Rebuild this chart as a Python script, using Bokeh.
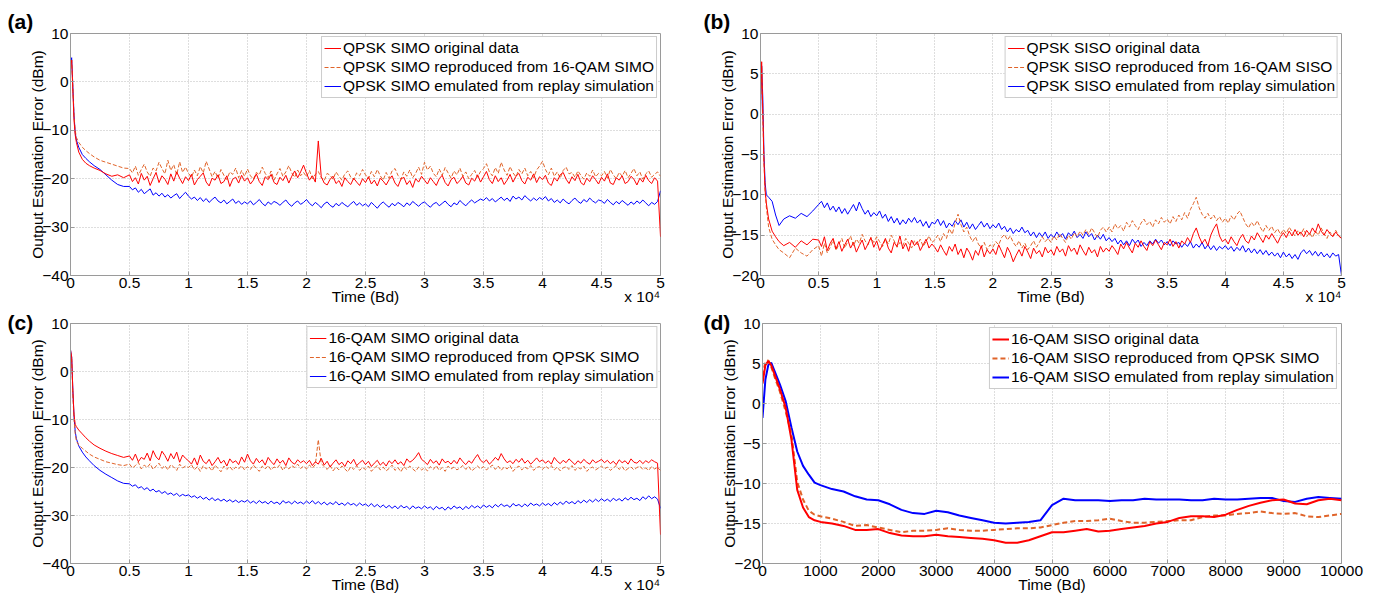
from bokeh.plotting import figure
from bokeh.layouts import column, row
from bokeh.models import Range1d, FixedTicker, Legend, LegendItem, Title, LinearAxis
from bokeh.embed import file_html
from bokeh.resources import INLINE

# ---------------- data ----------------
# time samples (Bd) for panels (a)-(c)
T_A = [0, 100, 200, 300, 400, 500, 700, 1000, 1300, 1600, 2000, 2500, 3000, 3500, 4000, 4500,
       5000, 5250, 5500, 5750, 6000, 6250, 6500, 6750, 7000, 7250, 7500, 7750, 8000, 8250, 8500, 8750, 9000, 9250, 9500, 9750,
       10000, 10250, 10500, 10750, 11000, 11250, 11500, 11750, 12000, 12250, 12500, 12750, 13000, 13250, 13500, 13750, 14000, 14250, 14500, 14750,
       15000, 15250, 15500, 15750, 16000, 16250, 16500, 16750, 17000, 17250, 17500, 17750, 18000, 18250, 18500, 18750, 19000, 19250, 19500, 19750,
       20000, 20250, 20500, 20750, 21000, 21250, 21500, 21750, 22000, 22250, 22500, 22750, 23000, 23250, 23500, 23750, 24000, 24250, 24500, 24750,
       25000, 25250, 25500, 25750, 26000, 26250, 26500, 26750, 27000, 27250, 27500, 27750, 28000, 28250, 28500, 28750, 29000, 29250, 29500, 29750,
       30000, 30250, 30500, 30750, 31000, 31250, 31500, 31750, 32000, 32250, 32500, 32750, 33000, 33250, 33500, 33750, 34000, 34250, 34500, 34750,
       35000, 35250, 35500, 35750, 36000, 36250, 36500, 36750, 37000, 37250, 37500, 37750, 38000, 38250, 38500, 38750, 39000, 39250, 39500, 39750,
       40000, 40250, 40500, 40750, 41000, 41250, 41500, 41750, 42000, 42250, 42500, 42750, 43000, 43250, 43500, 43750, 44000, 44250, 44500, 44750,
       45000, 45250, 45500, 45750, 46000, 46250, 46500, 46750, 47000, 47250, 47500, 47750, 48000, 48250, 48500, 48750, 49000, 49250, 49500, 49750,
       50000]

# (a) QPSK SIMO
A_ORIG = [3.5, 4.5, -2, -8, -11, -12.5, -14.5, -16, -16.8, -17.3, -17.8, -18.3, -19, -19.5, -19.2, -19.8,
          -19.2, -20.6, -19.8, -21.1, -18.9, -20.3, -19.5, -21.4, -20.0, -18.7, -20.8, -19.4, -20.1, -21.2, -19.0, -20.5, -18.6, -19.9, -21.0, -19.6,
          -20.4, -19.1, -21.3, -20.2, -19.5, -18.8, -20.7, -21.5, -19.9, -20.3, -19.2, -21.0, -20.6, -19.4, -21.6, -20.1, -19.7, -20.9, -19.3, -20.5,
          -19.8, -21.1, -20.3, -19.0, -20.6, -21.4, -19.6, -20.2, -19.1, -20.8, -21.2, -19.7, -20.4, -19.3, -20.9, -19.5, -18.4, -19.8, -18.6, -17.2,
          -18.9, -20.3, -19.4, -20.7, -12.2, -19.6, -20.9, -21.3, -20.1, -19.5, -21.0, -20.4, -21.6, -19.8, -20.6, -21.2, -19.9, -20.7, -21.4, -20.0,
          -20.8, -19.6, -21.1, -20.3, -21.5, -19.9, -20.5, -21.3, -20.2, -19.4, -20.9, -21.6, -20.1, -19.7, -21.2, -20.4, -21.8, -20.0, -20.7, -19.5,
          -20.3, -21.1, -19.8, -20.6, -21.4, -20.0, -19.3, -20.8, -21.5, -20.2, -19.7, -21.0, -20.4, -19.5, -20.9, -21.3, -19.9, -20.5, -19.2, -20.7,
          -19.6, -18.5, -20.2, -21.0, -19.4, -20.6, -19.8, -21.2, -20.3, -19.1, -20.7, -19.5, -18.9, -20.4, -21.1, -19.7, -20.3, -19.0, -20.8, -19.6,
          -20.2, -19.3, -20.9, -21.4, -19.8, -20.5, -19.2, -18.7, -20.1, -21.0, -19.6, -20.4, -19.1, -20.8, -21.3, -19.9, -20.6, -19.4, -20.2, -21.1,
          -19.7, -20.5, -19.0, -20.9, -21.2, -19.8, -20.3, -19.4, -21.0, -20.6, -19.5, -20.1, -21.3, -19.9, -20.7, -19.3, -20.4, -21.0, -19.8, -20.5,
          -32]
A_REPR = [3, 4.5, -1, -7, -10, -11.5, -12.5, -13.5, -14.2, -14.8, -15.5, -16.2, -16.6, -17.0, -17.4, -17.8,
          -17.9, -18.8, -17.4, -19.3, -18.1, -17.0, -18.6, -19.5, -17.8, -18.4, -16.6, -17.9, -19.0, -16.2, -18.3, -17.1, -19.2, -16.5, -18.7, -17.6,
          -18.9, -19.7, -18.2, -19.4, -17.5, -18.8, -16.4, -18.0, -19.6, -18.5, -19.9, -18.1, -19.3, -20.2, -18.6, -19.1, -17.8, -19.8, -18.3, -19.5,
          -18.0, -19.4, -20.1, -18.7, -19.2, -17.6, -18.9, -19.8, -18.4, -20.3, -19.0, -17.9, -19.5, -18.6, -17.3, -18.8, -19.7, -18.2, -19.4, -18.7,
          -19.6, -18.3, -20.0, -19.1, -18.5, -19.8, -20.4, -18.9, -19.3, -20.1, -18.6, -19.5, -20.3, -19.0, -18.4, -19.7, -20.2, -18.8, -19.4, -18.1,
          -19.2, -20.0, -18.5, -19.6, -18.1, -19.4, -20.3, -18.7, -19.9, -18.4, -17.9, -19.3, -20.1, -18.6, -19.5, -18.2, -19.8, -18.9, -17.6, -19.1,
          -16.6, -18.2, -17.4, -18.9, -19.6, -18.0, -19.3, -17.7, -18.8, -19.9, -18.4, -19.2, -17.8, -19.5, -18.6, -20.0, -19.1, -18.3, -19.7, -18.5,
          -17.9, -16.9, -18.6, -19.4, -17.7, -18.9, -16.6, -18.2, -19.3, -17.5, -18.8, -19.6, -18.1, -19.0, -17.8, -19.4, -18.5, -19.8, -18.2, -17.4,
          -16.4, -18.1, -19.2, -17.8, -19.5, -18.6, -19.9, -18.3, -17.6, -19.0, -18.7, -19.7, -18.4, -19.3, -20.1, -18.8, -19.5, -18.2, -19.6, -18.9,
          -19.4, -18.5, -19.9, -18.1, -19.2, -20.0, -18.7, -19.5, -18.3, -19.8, -18.9, -17.9, -19.4, -18.6, -20.1, -19.0, -18.4, -19.7, -19.1, -18.6,
          -19.5]
A_EMUL = [4, 5, -1, -7, -10.5, -12, -13.5, -15, -15.8, -16.5, -17.3, -18.1, -19.2, -20.3, -21.2, -21.6,
          -21.6, -22.3, -21.9, -22.8, -22.2, -23.1, -22.6, -22.1, -23.4, -22.9, -23.6, -23.0, -23.8, -23.3, -24.0, -23.5, -23.1, -24.1, -23.4, -22.8,
          -23.6, -24.2, -23.8, -24.5, -23.9, -24.7, -24.1, -24.9, -24.3, -23.8, -24.6, -25.0, -24.4, -25.2, -24.7, -24.2, -25.1, -24.6, -25.3, -24.8,
          -25.2, -24.6, -25.4, -24.9, -24.3, -25.1, -25.6, -24.8, -25.3, -24.7, -25.0, -25.5, -24.9, -24.4, -25.2, -25.7, -25.0, -24.6, -25.3, -24.9,
          -24.3, -25.1, -25.6, -24.9, -25.4, -26.0, -25.2, -24.8, -25.5, -25.9, -25.1, -25.6, -24.9, -25.4, -25.8, -25.2, -24.7, -25.5, -25.0, -25.6,
          -25.2, -25.8, -24.9, -25.5, -26.1, -25.3, -24.8, -25.4, -25.9, -25.1, -25.6, -24.9, -25.3, -25.8, -25.0, -25.5, -24.7, -25.2, -25.7, -25.1,
          -24.8, -25.4, -25.9, -25.2, -24.9, -25.6, -25.1, -24.6, -25.3, -25.8, -25.0, -25.4, -24.5, -25.1, -25.6, -24.9, -24.4, -25.0, -24.6, -24.2,
          -24.5, -23.9, -24.6, -24.1, -24.8, -24.3, -23.8, -24.5, -24.0, -24.7, -23.6, -24.2, -23.8, -24.4, -23.5, -24.1, -24.6, -24.0, -24.5, -23.9,
          -24.3, -23.7, -24.6, -24.1, -24.9, -24.4, -25.0, -24.2, -24.8, -25.2, -24.5, -24.0, -24.7, -25.1, -24.3, -24.8, -24.0, -24.6, -25.0, -24.4,
          -24.6, -25.1, -24.3, -24.9, -25.4, -24.7, -25.2, -24.5, -25.0, -25.5, -24.8, -25.3, -24.6, -25.1, -24.4, -25.0, -25.6, -24.9, -25.3, -24.7,
          -22.5]

# (b) QPSK SISO
B_ORIG = [2, 6.5, 0, -6, -9.5, -11, -13, -14.5, -15.2, -15.8, -16.3, -15.9, -16.5, -15.7, -16.2, -15.5,
          -15.6, -16.4, -15.2, -16.9, -16.0, -15.4, -16.7, -15.8, -17.0, -16.2, -15.5, -16.6, -15.9, -17.1, -16.3, -15.6, -16.8, -16.1, -15.3, -16.5,
          -15.7, -16.9, -16.2, -15.4, -16.6, -17.2, -15.9, -16.4, -15.1, -16.7, -16.0, -17.0, -15.6, -16.3, -15.8, -16.9, -16.2, -15.5, -16.6, -16.1,
          -16.5, -17.1, -16.2, -16.9, -17.5, -16.4, -17.0, -16.1, -17.4, -16.7, -17.8, -16.6, -17.2, -18.1, -16.9, -17.5, -16.3, -17.7, -16.8, -17.3,
          -16.7, -17.4, -16.2, -17.0, -17.8, -16.5, -17.2, -18.3, -17.5, -16.8, -17.6, -16.4, -17.1, -17.9, -16.6, -17.3, -16.9, -17.7, -16.5, -17.2,
          -16.8, -17.5, -16.4, -17.1, -16.7, -17.6, -16.3, -17.0, -16.6, -17.4, -16.2, -16.9, -17.5, -16.5, -17.2, -16.8, -17.7, -16.4, -17.1, -16.6,
          -17.0, -16.3, -16.8, -17.4, -16.1, -16.7, -15.9, -16.6, -17.2, -16.0, -16.5, -15.7, -16.4, -16.9, -15.8, -16.3, -15.6, -16.2, -16.8, -15.9,
          -16.2, -15.5, -16.4, -15.8, -16.6, -15.7, -16.1, -15.3, -15.9, -14.8, -14.1, -15.2, -16.0, -15.5, -16.3, -15.0, -14.2, -13.6, -15.1, -15.8,
          -15.5, -16.1, -15.2, -15.8, -16.3, -15.4, -14.9, -15.7, -16.0, -15.1, -15.6, -14.7, -15.3, -15.9, -15.0, -15.5, -14.8, -15.4, -16.0, -15.2,
          -14.7, -15.3, -14.5, -15.1, -14.3, -15.0, -14.6, -15.2, -14.4, -14.9, -14.1, -14.7, -13.6, -14.5, -15.0, -14.3, -14.8, -15.2, -14.6, -15.1,
          -15.4]
B_REPR = [1, 6, 0, -6, -9.5, -11.5, -14, -15.5, -16.2, -16.8, -17.2, -17.8, -16.6, -17.2, -17.6, -16.8,
          -16.3, -17.6, -16.0, -17.2, -16.5, -15.6, -16.9, -16.1, -15.4, -16.6, -15.8, -15.1, -16.3, -15.5, -16.0, -14.9, -15.7, -16.2, -15.3, -15.9,
          -15.2, -15.8, -16.4, -15.5, -16.1, -15.0, -15.7, -16.5, -15.9, -16.3, -15.4, -16.0, -16.6, -15.7, -16.2, -15.5, -16.4, -15.8, -15.1, -15.9,
          -15.6, -15.0, -15.8, -14.8, -15.4, -14.2, -14.9, -13.5, -12.4, -13.7, -14.6, -14.0, -15.1, -15.8, -15.2, -16.1, -16.6, -15.9, -16.8, -16.2,
          -16.5, -15.8, -16.2, -15.3, -14.9, -15.6, -15.1, -15.9, -16.4, -15.7, -16.6, -16.0, -16.8, -16.3, -15.7, -16.5, -15.9, -15.2, -15.8, -15.4,
          -15.9, -15.1, -15.6, -14.8, -15.4, -15.9, -15.0, -15.5, -14.7, -15.2, -14.5, -15.0, -14.3, -14.9, -14.1, -14.7, -15.3, -14.4, -14.0, -14.6,
          -14.0, -14.6, -13.6, -14.2, -13.8, -14.5, -13.4, -14.0, -13.2, -13.8, -14.3, -13.5, -13.0, -13.7, -13.3, -14.0, -13.1, -13.6, -12.8, -13.4,
          -13.0, -13.6, -12.7, -13.3, -12.5, -13.1, -12.2, -12.9, -11.8, -11.1, -10.3, -11.6, -12.4, -12.9, -12.3, -13.0, -12.5, -13.2, -12.7, -13.4,
          -12.9, -13.5, -12.6, -13.1, -12.4, -12.0, -12.8, -13.6, -14.1, -13.4, -13.9, -13.2, -14.0, -14.6, -13.8, -14.4, -13.9, -14.7, -14.2, -14.9,
          -14.3, -14.8, -14.0, -14.6, -15.1, -14.4, -14.9, -14.2, -15.2, -14.7, -15.3, -14.5, -15.0, -14.1, -14.8, -15.4, -14.6, -15.1, -14.4, -15.0,
          -15.4]
B_EMUL = [0, 6, 2, -5, -8.5, -10, -10.3, -10.8, -12.5, -13.8, -13.0, -12.6, -12.9, -12.3, -12.7, -12.0,
          -11.2, -10.8, -11.6, -11.0, -11.9, -11.4, -12.1, -11.5, -12.3, -11.7, -12.4, -11.8, -11.2, -12.0, -10.9, -11.7, -12.4, -11.9, -12.7, -12.2,
          -12.6, -12.0, -12.9, -12.4, -13.3, -12.7, -13.5, -12.9, -13.7, -13.1, -13.6, -12.9, -13.4, -12.8, -13.5, -13.1, -13.9, -13.3, -14.1, -13.4,
          -13.6, -13.0, -13.8, -13.2, -14.1, -13.5, -13.9, -13.2, -13.7, -13.1, -14.0, -13.4, -14.2, -13.6, -14.3, -13.8, -13.3, -14.0, -13.5, -14.2,
          -13.7, -14.1, -13.5, -14.3, -13.9, -14.6, -14.1, -14.8, -14.3, -14.6, -14.0, -14.7, -14.4, -15.1, -14.6, -15.3, -14.7, -15.2, -14.6, -15.4,
          -14.9, -15.3, -14.6, -15.2, -14.8, -15.5, -14.7, -15.1, -14.5, -15.3, -14.9, -15.4, -14.6, -15.2, -14.8, -15.6, -15.0, -15.5, -14.9, -15.7,
          -15.3, -15.8, -15.4, -16.1, -15.6, -16.2, -15.7, -16.3, -15.5, -16.0, -15.6, -16.4, -15.9, -16.3, -15.7, -16.1, -15.5, -16.0, -15.6, -16.2,
          -15.8, -16.3, -15.7, -16.1, -15.9, -16.5, -16.0, -16.4, -15.8, -16.6, -16.1, -16.5, -15.9, -16.7, -16.2, -16.8, -16.3, -16.9, -16.4, -16.7,
          -16.3, -16.8, -16.4, -17.0, -16.5, -16.9, -16.3, -17.1, -16.6, -17.2, -16.7, -17.3, -16.8, -17.4, -16.9, -17.5, -17.1, -17.6, -17.2, -17.8,
          -17.1, -17.7, -17.3, -17.9, -17.4, -18.0, -17.2, -16.8, -17.3, -16.9, -17.5, -17.0, -17.6, -17.1, -17.7, -17.3, -17.8, -17.2, -17.6, -17.4,
          -20]

# (c) 16-QAM SIMO
C_ORIG = [4.5, 3, -4, -9, -11, -11.5, -12.2, -13, -13.8, -14.5, -15.3, -16.0, -16.6, -17.1, -17.5, -17.9,
          -17.6, -18.5, -17.2, -18.8, -17.9, -18.3, -17.0, -18.6, -16.5, -17.8, -18.4, -16.6, -17.5, -18.7, -17.1, -18.2, -16.8, -18.9, -17.4, -18.1,
          -18.6, -19.3, -18.0, -19.5, -17.4, -18.7, -19.2, -18.3, -19.6, -18.8, -17.9, -19.1, -18.5, -19.7, -18.2, -19.0, -18.6, -19.4, -17.8, -18.9,
          -17.2, -18.6, -19.3, -18.1, -19.0, -18.4, -19.5, -17.9, -18.8, -19.4, -18.2, -19.1, -18.5, -19.6, -18.0, -18.9, -19.3, -18.4, -19.0, -18.6,
          -19.2, -18.5, -19.6, -18.8, -19.3, -18.1, -19.5, -18.7, -19.9, -19.1, -18.4, -19.4, -18.9, -19.8, -18.6, -19.2, -18.3, -19.6, -19.0, -18.5,
          -19.4, -18.7, -19.8, -19.1, -18.5, -19.5, -18.9, -19.7, -18.6, -19.2, -18.4, -19.3, -18.8, -19.6, -18.2, -18.9, -18.5, -17.8, -16.9, -18.3,
          -18.8, -19.4, -18.3, -19.1, -18.6, -19.5, -18.2, -19.0, -18.7, -19.3, -18.5, -19.2, -18.0, -18.8, -19.4, -18.6, -19.1, -18.1, -17.3, -18.5,
          -19.0, -18.4, -19.3, -18.7, -17.9, -18.5, -17.1, -18.2, -19.0, -18.6, -19.2, -18.3, -18.9, -18.1, -19.1, -18.5, -19.3, -18.7, -18.0, -18.8,
          -18.4, -19.1, -18.6, -19.3, -17.9, -18.7, -19.2, -18.5, -19.0, -18.2, -18.8, -19.4, -18.6, -19.1, -18.3, -18.9, -19.3, -18.4, -19.0, -18.7,
          -18.3, -19.0, -18.5, -19.2, -18.7, -19.4, -18.4, -19.0, -18.6, -19.3, -18.2, -18.9, -19.1, -18.5, -19.2, -18.6, -19.0, -18.4, -18.8, -19.1,
          -34]
C_REPR = [4, 2.5, -5, -10, -13, -14.5, -15.3, -16, -16.6, -17.2, -17.8, -18.3, -18.8, -19.1, -19.4, -19.6,
          -19.3, -20.1, -19.6, -18.9, -20.3, -19.5, -20.0, -19.2, -20.4, -19.7, -19.1, -20.2, -19.6, -20.5, -19.4, -19.9, -20.6, -19.3, -20.1, -19.7,
          -20.0, -19.4, -20.5, -19.8, -20.8, -19.6, -20.3, -19.9, -20.7, -19.5, -20.2, -20.9, -19.7, -20.4, -19.8, -20.6, -19.9, -20.3, -19.6, -20.5,
          -19.8, -20.4, -19.5, -20.2, -20.8, -19.7, -20.3, -19.6, -20.5, -19.9, -20.1, -19.4, -20.6, -19.8, -20.3, -19.6, -20.0, -19.3, -20.2, -19.7,
          -20.3, -19.5, -20.1, -19.4, -14.2, -19.2, -19.8, -20.4, -19.6, -20.7, -19.9, -20.5, -19.7, -20.3, -20.9, -19.8, -20.4, -19.6, -20.6, -20.0,
          -20.4, -19.7, -20.8, -20.1, -19.6, -20.5, -19.9, -20.7, -20.2, -19.5, -20.6, -20.0, -20.9, -19.8, -20.4, -19.7, -20.3, -20.8, -19.9, -20.5,
          -20.1, -20.7, -19.8, -20.4, -19.6, -20.6, -20.0, -20.8, -19.7, -20.3, -19.9, -20.5, -20.1, -19.6, -20.4, -19.8, -20.7, -20.2, -19.7, -20.3,
          -19.8, -20.5, -20.0, -19.5, -20.4, -19.7, -20.6, -19.9, -20.3, -19.6, -20.8, -20.1, -19.7, -20.5, -19.9, -20.3, -19.6, -20.6, -20.0, -19.8,
          -20.4, -19.7, -20.2, -19.6, -20.5, -19.9, -20.7, -20.1, -19.8, -20.4, -19.6, -20.6, -20.0, -20.3, -19.7, -20.8, -20.2, -19.9, -20.5, -20.1,
          -19.7, -20.3, -19.9, -20.6, -20.1, -19.6, -20.4, -19.8, -20.7, -20.2, -19.9, -20.5, -20.0, -19.7, -20.4, -20.1, -20.6, -19.8, -20.3, -20.0,
          -20.6]
C_EMUL = [4.5, 3, -4, -9.5, -12.5, -14, -15.5, -16.8, -17.8, -18.6, -19.6, -20.6, -21.4, -22.1, -22.8, -23.3,
          -23.4, -23.9, -23.6, -24.3, -24.0, -24.6, -24.2, -24.9, -24.5, -25.1, -24.8, -25.4, -25.0, -25.6, -25.3, -25.8, -25.4, -26.0, -25.6, -25.9,
          -25.7, -26.2, -25.9, -26.4, -26.0, -26.6, -26.2, -26.8, -26.3, -26.9, -26.5, -27.0, -26.6, -27.1, -26.7, -27.2, -26.8, -27.3, -26.9, -27.2,
          -26.8, -27.4, -27.0, -27.5, -26.9, -27.4, -27.1, -27.6, -27.0, -27.5, -27.2, -27.7, -26.9, -27.4, -27.1, -27.6, -27.0, -27.5, -27.2, -27.6,
          -27.0, -27.5, -26.9, -27.6, -27.1, -27.7, -27.2, -27.8, -27.3, -27.7, -27.1, -27.8, -27.4, -27.9, -27.3, -27.8, -27.5, -28.0, -27.4, -27.9,
          -27.6, -28.1, -27.5, -28.2, -27.7, -28.3, -27.8, -28.4, -27.9, -28.5, -28.0, -28.6, -27.9, -28.4, -28.1, -28.7, -28.0, -28.5, -28.2, -28.6,
          -28.0, -28.5, -28.2, -28.8, -28.1, -28.6, -28.3, -28.9, -28.2, -28.7, -28.0, -28.5, -28.2, -28.8, -28.1, -28.6, -27.9, -28.4, -28.0, -28.5,
          -27.8, -28.3, -27.9, -28.4, -27.7, -28.2, -27.6, -28.1, -27.8, -28.3, -27.5, -28.0, -27.7, -28.2, -27.6, -28.1, -27.4, -27.9, -27.6, -28.0,
          -27.4, -27.9, -27.5, -28.0, -27.3, -27.8, -27.2, -27.7, -27.0, -27.5, -27.1, -27.6, -26.9, -27.4, -26.8, -27.3, -26.7, -27.2, -26.6, -27.1,
          -26.5, -27.0, -26.6, -27.1, -26.4, -26.9, -26.5, -27.0, -26.3, -26.8, -26.2, -26.7, -26.4, -26.9, -26.1, -26.6, -25.9, -26.5, -26.1, -26.6,
          -28.5]

# (d) 16-QAM SISO
T_D = [0, 50, 100, 150, 200, 300, 400, 500, 600, 700, 800, 900, 1000,
       1200, 1400, 1600, 1800, 2000, 2200, 2400, 2600, 2800, 3000,
       3200, 3400, 3600, 3800, 4000, 4200, 4400, 4600, 4800, 5000,
       5200, 5400, 5600, 5800, 6000, 6200, 6400, 6600, 6800, 7000,
       7200, 7400, 7600, 7800, 8000, 8200, 8400, 8600, 8800, 9000,
       9200, 9400, 9600, 9800, 10000]
D_ORIG = [2.5, 4.8, 5.3, 4.8, 3.8, 1.8, -0.5, -4.5, -10.8, -13.0, -14.2, -14.6, -14.8,
          -15.0, -15.3, -15.8, -15.8, -15.7, -16.2, -16.5, -16.6, -16.6, -16.4,
          -16.6, -16.7, -16.8, -16.9, -17.1, -17.4, -17.4, -17.1, -16.6, -16.1,
          -16.1, -15.9, -15.7, -16.0, -15.9, -15.7, -15.5, -15.3, -15.0, -14.8,
          -14.3, -14.1, -14.1, -14.2, -13.9, -13.3, -12.8, -12.4, -12.1, -12.0,
          -12.5, -12.6, -12.1, -11.9, -12.1]
D_REPR = [3.5, 5.2, 5.4, 4.6, 3.5, 1.5, -1.0, -3.8, -9.8, -12.0, -13.4, -13.9, -14.1,
          -14.4, -14.8, -15.3, -15.2, -15.5, -15.8, -16.1, -15.9, -15.9, -15.8,
          -15.6, -15.8, -15.9, -15.9, -15.8, -15.7, -15.6, -15.6, -15.5, -15.2,
          -14.9, -14.7, -14.7, -14.6, -14.4, -14.7, -14.9, -14.9, -14.8, -14.7,
          -14.6, -14.6, -14.2, -14.0, -14.0, -13.8, -13.7, -13.5, -13.7, -13.8,
          -13.7, -14.1, -14.2, -14.0, -13.8]
D_EMUL = [-1.8, 3.0, 4.8, 5.1, 4.2, 2.4, 0.3, -3.0, -6.0, -7.8, -8.9, -9.9, -10.2,
          -10.7, -11.0, -11.6, -12.0, -12.1, -12.6, -13.3, -13.7, -13.8, -13.4,
          -13.6, -14.0, -14.3, -14.6, -14.9, -15.0, -14.9, -14.8, -14.6, -12.7,
          -11.9, -12.1, -12.1, -12.1, -12.2, -12.1, -12.1, -11.9, -12.0, -12.0,
          -12.0, -12.1, -12.1, -11.9, -12.0, -12.0, -11.9, -11.8, -11.8, -12.2,
          -12.3, -11.9, -11.7, -11.8, -11.9]

# ticks and labels
X_TICKS_LONG = [0, 5000, 10000, 15000, 20000, 25000, 30000, 35000, 40000, 45000, 50000]
X_LABELS_LONG = ["0", "0.5", "1", "1.5", "2", "2.5", "3", "3.5", "4", "4.5", "5"]
X_TICKS_D = [0, 1000, 2000, 3000, 4000, 5000, 6000, 7000, 8000, 9000, 10000]
X_LABELS_D = ["0", "1000", "2000", "3000", "4000", "5000", "6000", "7000", "8000", "9000", "10000"]
Y_TICKS_SIMO = [-40, -30, -20, -10, 0, 10]
Y_TICKS_SISO = [-20, -15, -10, -5, 0, 5, 10]
X_LABEL = "Time (Bd)"
Y_LABEL = "Output Estimation Error (dBm)"
MULTIPLIER = "x 10\u2074"

LEG_A = ["QPSK SIMO original data", "QPSK SIMO reproduced from 16-QAM SIMO", "QPSK SIMO emulated from replay simulation"]
LEG_B = ["QPSK SISO original data", "QPSK SISO reproduced from 16-QAM SISO", "QPSK SISO emulated from replay simulation"]
LEG_C = ["16-QAM SIMO original data", "16-QAM SIMO reproduced from QPSK SIMO", "16-QAM SIMO emulated from replay simulation"]
LEG_D = ["16-QAM SISO original data", "16-QAM SISO reproduced from QPSK SIMO", "16-QAM SISO emulated from replay simulation"]

for _name, _t, _ys in (("a", T_A, (A_ORIG, A_REPR, A_EMUL)), ("b", T_A, (B_ORIG, B_REPR, B_EMUL)),
                       ("c", T_A, (C_ORIG, C_REPR, C_EMUL)), ("d", T_D, (D_ORIG, D_REPR, D_EMUL))):
    for _y in _ys:
        assert len(_y) == len(_t), (_name, len(_y), len(_t))

# ---------------- styling ----------------
FONT = "Liberation Sans"
FS = "15.5px"
RED = "#ff0000"
ORANGE = "#e0642a"
BLUE = "#0000ff"
BOX = "#9a9a9a"
GRID = "#bcbcbc"


def style_axis(ax):
    ax.axis_line_color = BOX
    ax.major_tick_line_color = BOX
    ax.major_tick_in = 4
    ax.major_tick_out = 0
    ax.minor_tick_in = 0
    ax.minor_tick_out = 0
    ax.major_label_text_font = FONT
    ax.major_label_text_font_size = FS
    ax.major_label_text_color = "black"
    ax.major_label_standoff = 2
    ax.axis_label_text_font = FONT
    ax.axis_label_text_font_size = FS
    ax.axis_label_text_font_style = "normal"
    ax.axis_label_text_color = "black"


def make_panel(w, h, bl, br, bt, bb, xr, yr, xticks, xlabels, yticks):
    p = figure(width=w, height=h, x_range=Range1d(*xr), y_range=Range1d(*yr),
               output_backend="svg", toolbar_location=None,
               min_border_left=bl, min_border_right=br, min_border_top=bt, min_border_bottom=bb)
    p.background_fill_color = "white"
    p.border_fill_color = "white"
    p.outline_line_color = BOX
    p.outline_line_width = 1
    p.xaxis.ticker = FixedTicker(ticks=xticks)
    p.xaxis.major_label_overrides = {t: l for t, l in zip(xticks, xlabels)}
    p.yaxis.ticker = FixedTicker(ticks=yticks)
    style_axis(p.xaxis[0])
    style_axis(p.yaxis[0])
    p.yaxis.axis_label = Y_LABEL
    p.yaxis.axis_label_standoff = -7
    p.grid.grid_line_color = GRID
    p.grid.grid_line_dash = "1 2"
    p.grid.grid_line_width = 1
    return p


def bottom_texts(p, xr, multiplier, standoff):
    # second row under the tick labels: axis title in the middle, scale factor at the right end
    mid = (xr[0] + xr[1]) / 2
    ticks = [mid]
    over = {mid: X_LABEL}
    if multiplier:
        pos = xr[0] + (xr[1] - xr[0]) * 0.969
        ticks.append(pos)
        over[pos] = MULTIPLIER
    ax = LinearAxis(ticker=FixedTicker(ticks=ticks), major_label_overrides=over)
    style_axis(ax)
    ax.axis_line_color = None
    ax.major_tick_line_color = None
    ax.minor_tick_line_color = None
    ax.major_label_standoff = standoff
    p.add_layout(ax, "below")


def add_series(p, t, orig, repr_, emul, labels, lw, dash, margin):
    rb = p.line(t, emul, line_color=BLUE, line_width=lw)
    ro = p.line(t, repr_, line_color=ORANGE, line_width=lw, line_dash=dash)
    rr = p.line(t, orig, line_color=RED, line_width=lw)
    items = [LegendItem(label=labels[0], renderers=[rr]),
             LegendItem(label=labels[1], renderers=[ro]),
             LegendItem(label=labels[2], renderers=[rb])]
    leg = Legend(items=items, location="top_right")
    leg.label_text_font = FONT
    leg.label_text_font_size = FS
    leg.label_text_color = "black"
    leg.glyph_width = 17
    leg.glyph_height = 18
    leg.label_height = 18
    leg.label_standoff = 2
    leg.spacing = 1
    leg.padding = 2
    leg.margin = margin
    leg.border_line_color = BOX
    leg.border_line_width = 1
    leg.background_fill_color = "white"
    leg.background_fill_alpha = 1
    p.add_layout(leg)


def tag(p, text, offset, top_row):
    t = Title(text=text, align="left", offset=offset,
              text_font=FONT, text_font_style="bold", text_font_size="21px", text_color="black")
    if top_row:
        t.vertical_align = "top"
        t.standoff = -2
    else:
        t.vertical_align = "bottom"
        t.standoff = -21
    p.add_layout(t, "above")


XR_LONG = (0, 50000)
XR_D = (0, 10000)

pa = make_panel(690, 309, 70, 30, 33, 34, XR_LONG, (-40, 10), X_TICKS_LONG, X_LABELS_LONG, Y_TICKS_SIMO)
add_series(pa, T_A, A_ORIG, A_REPR, A_EMUL, LEG_A, 1, "4 2", 3)
bottom_texts(pa, XR_LONG, True, -3)
tag(pa, "(a)", -63, True)

pb = make_panel(684, 309, 70, 33, 33, 34, XR_LONG, (-20, 10), X_TICKS_LONG, X_LABELS_LONG, Y_TICKS_SISO)
add_series(pb, T_A, B_ORIG, B_REPR, B_EMUL, LEG_B, 1, "4 2", 3)
bottom_texts(pb, XR_LONG, True, -3)
tag(pb, "(b)", -57, True)

pc = make_panel(690, 295, 70, 30, 14, 41, XR_LONG, (-40, 10), X_TICKS_LONG, X_LABELS_LONG, Y_TICKS_SIMO)
add_series(pc, T_A, C_ORIG, C_REPR, C_EMUL, LEG_C, 1, "4 2", 3)
bottom_texts(pc, XR_LONG, True, -3)
tag(pc, "(c)", -63, False)

pd = make_panel(684, 295, 72, 33, 14, 40, XR_D, (-20, 10), X_TICKS_D, X_LABELS_D, Y_TICKS_SISO)
add_series(pd, T_D, D_ORIG, D_REPR, D_EMUL, LEG_D, 2, "5 3", 4)
bottom_texts(pd, XR_D, False, -3)
tag(pd, "(d)", -59, False)

layout = column(row(pa, pb), row(pc, pd))
open("out.html", "w").write(file_html(layout, INLINE))
